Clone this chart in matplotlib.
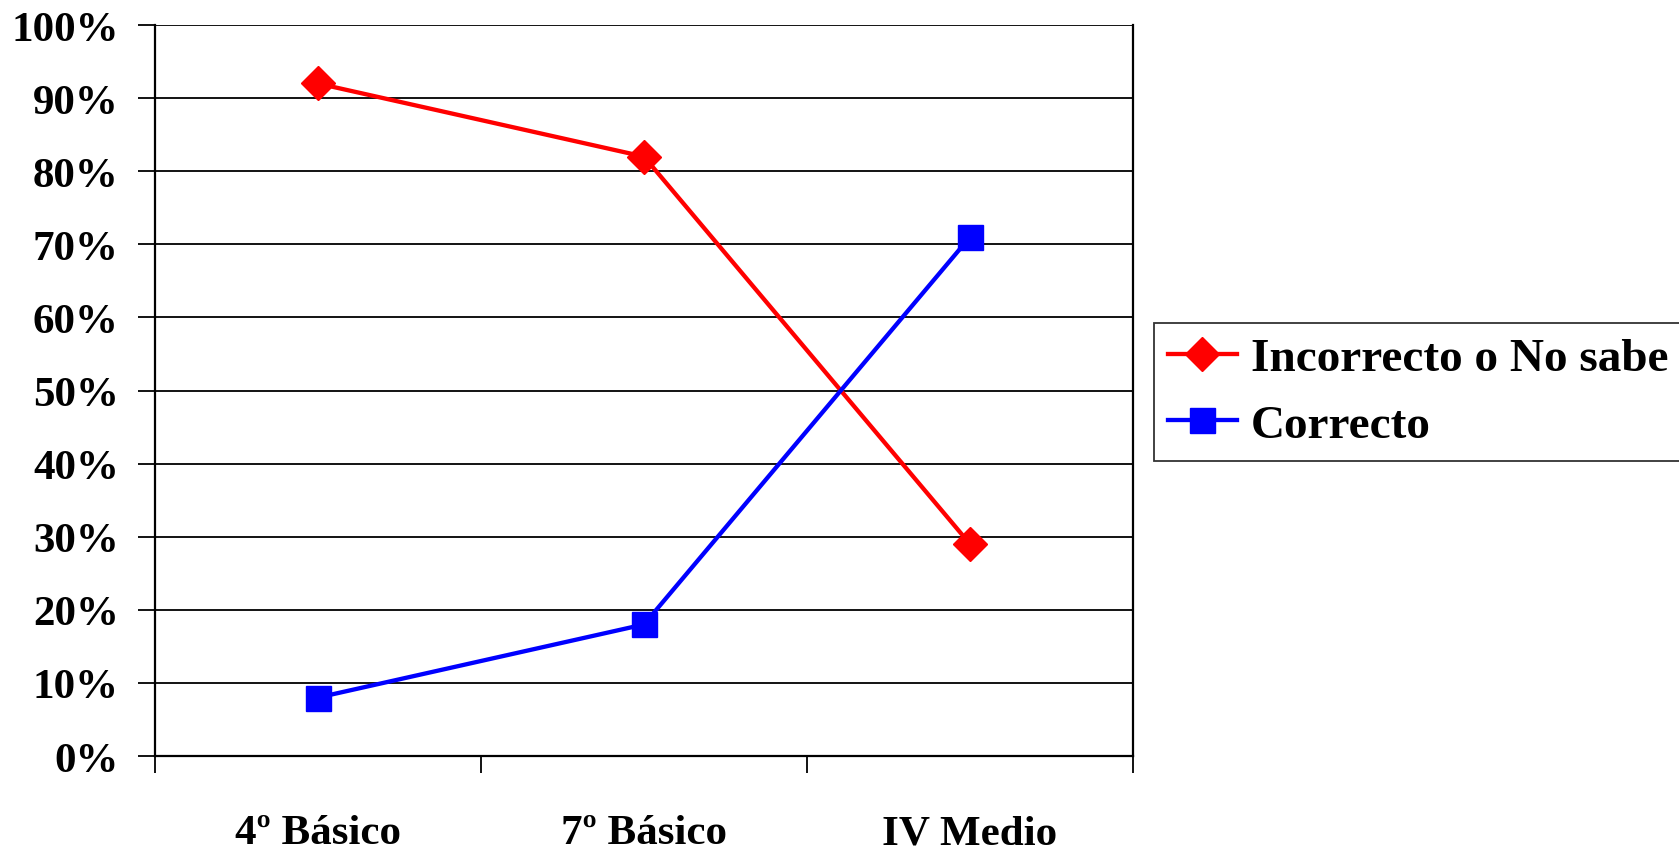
import matplotlib.pyplot as plt
import numpy as np

# datos
categorias = ['4º Básico', '7º Básico', 'IV Medio']
incorrecto = [92, 82, 29]
correcto = [8, 18, 71]
ticks_y = [0, 10, 20, 30, 40, 50, 60, 70, 80, 90, 100]

plt.rcParams['font.family'] = ['Liberation Serif', 'DejaVu Serif']

fig = plt.figure(figsize=(16.79, 8.53), dpi=100)
ax = fig.add_axes([0.0923, 0.1125, 0.5825, 0.857])

x = np.arange(len(categorias))
ax.plot(x, incorrecto, color='#ff0000', lw=3.1, marker='D', ms=17,
        label='Incorrecto o No sabe')
ax.plot(x, correcto, color='#0000ff', lw=3.1, marker='s', ms=18,
        label='Correcto')

ax.set_xlim(-0.5, len(categorias) - 0.5)
ax.set_ylim(0, 100)
ax.set_yticks(ticks_y)
ax.set_yticklabels([f'{t}%' for t in ticks_y])
ax.yaxis.grid(True, color='black', lw=1.3)
ax.set_axisbelow(True)

ax.set_xticks(x)
ax.set_xticklabels(categorias)
ax.set_xticks(np.arange(len(categorias) + 1) - 0.5, minor=True)
ax.tick_params(axis='x', which='major', length=0, pad=42)
ax.tick_params(axis='x', which='minor', length=12, width=1.3, direction='out')
ax.tick_params(axis='y', length=12, width=1.3, pad=14)
for lab in ax.get_xticklabels() + ax.get_yticklabels():
    lab.set_fontsize(31)
    lab.set_fontweight('bold')

ax.spines['top'].set_visible(False)
for s in ['left', 'right', 'bottom']:
    ax.spines[s].set_linewidth(1.6)
    ax.spines[s].set_color('black')

leg = fig.legend(loc='upper left', bbox_to_anchor=(1154 / 1679, 1 - 324 / 853),
                 prop={'size': 34, 'weight': 'bold'}, frameon=True, fancybox=False,
                 edgecolor='black', handlelength=1.45, handletextpad=0.3,
                 labelspacing=0.5, borderpad=0.3, borderaxespad=0)
leg.get_frame().set_linewidth(1.3)

fig.savefig('out.png', dpi=100)
